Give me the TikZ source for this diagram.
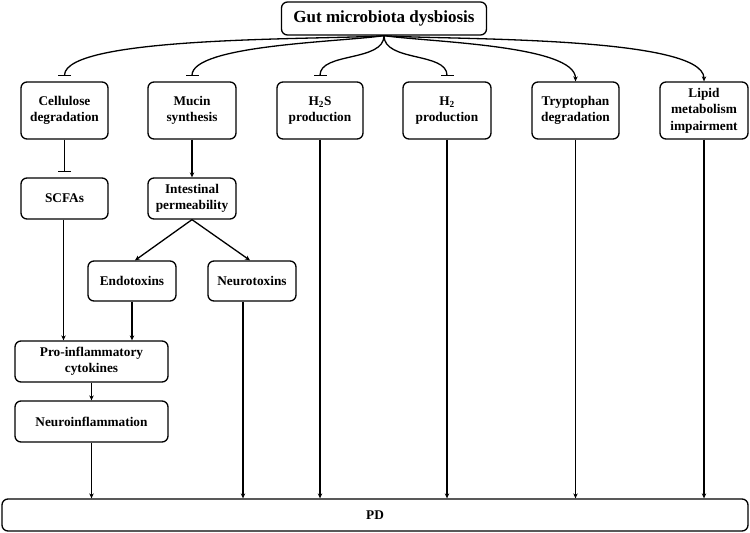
\documentclass[tikz,border=0pt]{standalone}
\usepackage{fontspec}
\setmainfont{Liberation Serif}
\usetikzlibrary{arrows.meta}
\tikzset{
  box/.style={draw, rounded corners=6pt, line width=1.3pt, align=center,
    font=\bfseries\fontsize{13.3}{16.3}\selectfont, inner sep=2pt},
  toparrow/.style={line width=1.3pt, -{Stealth[length=5pt,width=4.5pt]}},
  inhib/.style={line width=1.3pt, -{Bar[width=13pt,line width=1.4pt]}},
}
\begin{document}
\begin{tikzpicture}[x=1pt,y=-1pt]
\useasboundingbox (0,0) rectangle (750,533);
% top node
\node[box, minimum width=205pt, minimum height=33pt, font=\bfseries\fontsize{17}{20}\selectfont] (gut) at (384,18.5) {Gut microbiota dysbiosis};
% row 1
\node[box, minimum width=87pt, minimum height=57pt] (cel) at (64.5,110.5) {Cellulose\\degradation};
\node[box, minimum width=88pt, minimum height=57pt] (muc) at (192,110.5) {Mucin\\synthesis};
\node[box, minimum width=86pt, minimum height=57pt] (hs) at (320,110.5) {H\textsubscript{2}S\\production};
\node[box, minimum width=88pt, minimum height=57pt] (hh) at (447,110.5) {H\textsubscript{2}\\production};
\node[box, minimum width=87pt, minimum height=57pt] (try) at (575.5,110.5) {Tryptophan\\degradation};
\node[box, minimum width=88pt, minimum height=57pt] (lip) at (704,110.5) {Lipid\\metabolism\\impairment};
% row 2
\node[box, minimum width=87pt, minimum height=41pt] (scfa) at (64.5,198.5) {SCFAs};
\node[box, minimum width=88pt, minimum height=41pt] (ip) at (192,198.5) {Intestinal\\permeability};
% row 3
\node[box, minimum width=88pt, minimum height=40pt] (endo) at (132,281) {Endotoxins};
\node[box, minimum width=88pt, minimum height=40pt] (neu) at (252,281) {Neurotoxins};
% row 4
\node[box, minimum width=153pt, minimum height=41pt] (pro) at (91.5,361.5) {Pro-inflammatory\\cytokines};
\node[box, minimum width=153pt, minimum height=41pt] (ninf) at (91.5,421.5) {Neuroinflammation};
% PD
\node[box, minimum width=746pt, minimum height=32pt] (pd) at (375,515) {PD};
% curves from gut
\draw[inhib] (gut.south) .. controls (330,40) and (64.5,35) .. ([yshift=5pt]cel.north);
\draw[inhib] (gut.south) .. controls (340,42) and (192,45) .. ([yshift=5pt]muc.north);
\draw[inhib] (gut.south) .. controls (384,62) and (320,52) .. ([yshift=5pt]hs.north);
\draw[inhib] (gut.south) .. controls (384,62) and (447,52) .. ([yshift=5pt]hh.north);
\draw[toparrow] (gut.south) .. controls (428,42) and (575.5,45) .. (try.north);
\draw[toparrow] (gut.south) .. controls (438,40) and (704,35) .. (lip.north);
% left column
\draw[inhib] (cel.south) -- ([yshift=5pt]scfa.north);
\draw[toparrow] (muc.south) -- (ip.north);
\draw[toparrow] (ip.south) -- ([xshift=3pt]endo.north);
\draw[toparrow] (ip.south) -- ([xshift=-2pt]neu.north);
\draw[toparrow] ([xshift=-1pt]scfa.south) -- ([xshift=-1pt]scfa.south |- pro.north);
\draw[toparrow] (endo.south) -- (endo.south |- pro.north);
\draw[toparrow] (pro.south) -- (ninf.north);
% into PD
\draw[toparrow] (ninf.south) -- (ninf.south |- pd.north);
\draw[toparrow] ([xshift=-9pt]neu.south) -- ([xshift=-9pt]neu.south |- pd.north);
\draw[toparrow] (hs.south) -- (hs.south |- pd.north);
\draw[toparrow] (hh.south) -- (hh.south |- pd.north);
\draw[toparrow] (try.south) -- (try.south |- pd.north);
\draw[toparrow] (lip.south) -- (lip.south |- pd.north);
\end{tikzpicture}
\end{document}
